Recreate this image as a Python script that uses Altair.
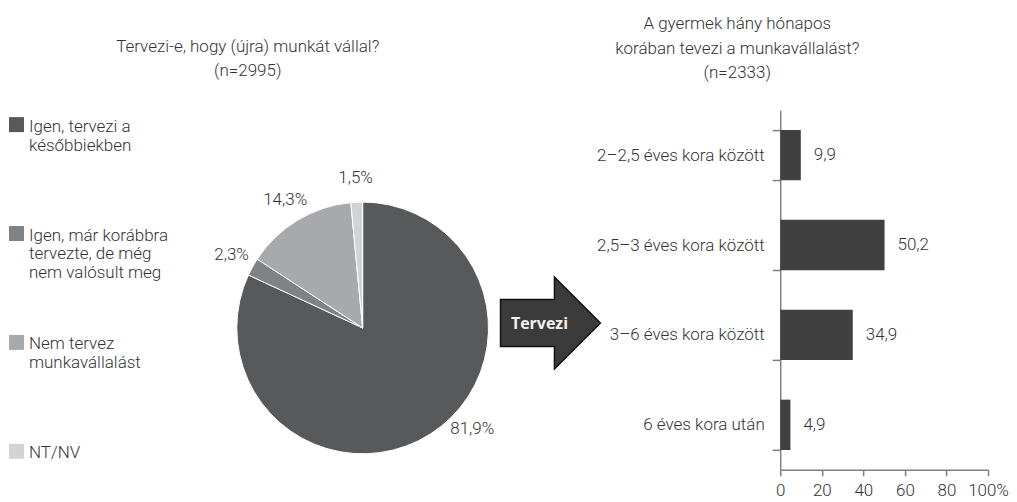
import json
import altair as alt
import pandas as pd

FONT = "Roboto"
TEXT = "#333333"

# ---------------- data ----------------
pie_categories = [
    "Igen, tervezi a későbbiekben",
    "Igen, már korábbra tervezte, de még nem valósult meg",
    "Nem tervez munkavállalást",
    "NT/NV",
]
pie_legend_lines = [
    ["Igen, tervezi a", "későbbiekben"],
    ["Igen, már korábbra", "tervezte, de még", "nem valósult meg"],
    ["Nem tervez", "munkavállalást"],
    ["NT/NV"],
]
pie_values = [81.9, 2.3, 14.3, 1.5]
pie_colors = ["#58595b", "#808285", "#a7a9ac", "#d1d3d4"]
pie_title = ["Tervezi-e, hogy (újra) munkát vállal?", "(n=2995)"]

bar_categories = [
    "2–2,5 éves kora között",
    "2,5–3 éves kora között",
    "3–6 éves kora között",
    "6 éves kora után",
]
bar_values = [9.9, 50.2, 34.9, 4.9]
bar_title = ["A gyermek hány hónapos", "korában tevezi a munkavállalást?", "(n=2333)"]
x_ticks = [0, 20, 40, 60, 80, 100]

arrow_label = ["Tervezi"]

# ---------------- pie + legend ----------------
pie_df = pd.DataFrame({"cat": pie_categories, "pct": pie_values, "order": list(range(len(pie_values)))})

label_expr = " : ".join(
    f"datum.label == {json.dumps(c, ensure_ascii=False)} ? {json.dumps(l, ensure_ascii=False)}"
    for c, l in zip(pie_categories, pie_legend_lines)
) + " : datum.label"

CX, CY = 355, 218

theta_scale = alt.Scale(domain=[0, 100])

# square symbol drawn a little below its anchor so it lines up with the first label line
legend_square = "M -1 -0.2 L 1 -0.2 L 1 1.8 L -1 1.8 Z"

arcs = alt.Chart(pie_df).mark_arc(outerRadius=126, stroke="white", strokeWidth=1).encode(
    theta=alt.Theta("pct:Q", stack=True, scale=theta_scale),
    order=alt.Order("order:Q", sort="ascending"),
    color=alt.Color(
        "cat:N",
        sort=pie_categories,
        scale=alt.Scale(domain=pie_categories, range=pie_colors),
        legend=alt.Legend(
            title=None,
            orient="none",
            legendX=0,
            legendY=0,
            symbolType=legend_square,
            symbolSize=225,
            symbolStrokeWidth=0,
            labelFont=FONT,
            labelFontSize=17,
            labelFontWeight=300,
            labelColor=TEXT,
            labelLimit=0,
            labelOffset=4,
            rowPadding=46,
            gridAlign="all",
            labelBaseline="top",
            labelExpr=label_expr,
            padding=0,
        ),
    ),
    x=alt.value(CX),
    y=alt.value(CY),
)

pie_text_base = (
    alt.Chart(pie_df)
    .transform_window(cum="sum(pct)", sort=[alt.SortField("order")], frame=[None, 0])
    .transform_calculate(
        mid="datum.cum - datum.pct / 2",
        lbl="replace(format(datum.pct, '.1f'), '.', ',') + '%'",
    )
    .encode(
        theta=alt.Theta("mid:Q", stack=None, scale=theta_scale),
        text="lbl:N",
        x=alt.value(CX),
        y=alt.value(CY),
    )
)
small_labels = pie_text_base.transform_filter("datum.pct < 50").mark_text(
    radius=150, font=FONT, fontSize=17, fontWeight=300, color=TEXT
)
big_label = pie_text_base.transform_filter("datum.pct >= 50").mark_text(
    radius=150, dx=29, dy=-25, font=FONT, fontSize=17, fontWeight=300, color=TEXT
)

title_common = dict(font=FONT, fontSize=17, fontWeight=300, color=TEXT, anchor="middle", lineHeight=24.5)

pie_view = alt.layer(arcs, small_labels, big_label).properties(
    width=480, height=360, title=alt.TitleParams(text=pie_title, offset=30, **title_common)
)

# ---------------- arrow ----------------
arrow_df = pd.DataFrame({"label": arrow_label})
arrow_path = "M -1 -0.47 L 0.08 -0.47 L 0.08 -0.92 L 1 0 L 0.08 0.92 L 0.08 0.47 L -1 0.47 Z"
arrow = alt.Chart(arrow_df).mark_point(
    shape=arrow_path, size=10000, filled=True, fill="#3b3b3b", stroke="#111111", strokeWidth=1.5, opacity=1
).encode(x=alt.value(63), y=alt.value(213))
arrow_text = alt.Chart(arrow_df).mark_text(
    font="Open Sans", fontWeight="bold", fontSize=16, color="#f2f2f2"
).encode(text="label:N", x=alt.value(52), y=alt.value(214))
arrow_view = alt.layer(arrow, arrow_text).properties(width=293, height=360)

# ---------------- bars ----------------
bar_df = pd.DataFrame({"cat": bar_categories, "v": bar_values})
bar_base = alt.Chart(bar_df).transform_calculate(
    lbl="replace(format(datum.v, '.1f'), '.', ',')"
).encode(
    y=alt.Y(
        "cat:N",
        sort=bar_categories,
        title=None,
        scale=alt.Scale(paddingInner=0.44, paddingOuter=0.22),
        axis=alt.Axis(
            tickBand="extent",
            ticks=True,
            tickSize=8,
            labelPadding=8,
            labelFont=FONT,
            labelFontSize=17,
            labelFontWeight=300,
            labelColor=TEXT,
            labelLimit=0,
            domainColor="#7f7f7f",
            domainWidth=1.5,
            tickColor="#7f7f7f",
            tickWidth=1.5,
        ),
    ),
    x=alt.X(
        "v:Q",
        title=None,
        scale=alt.Scale(domain=[0, 100]),
        axis=alt.Axis(
            values=x_ticks,
            grid=False,
            tickSize=6,
            labelPadding=7,
            labelFlush=False,
            labelFont=FONT,
            labelFontSize=17,
            labelFontWeight=300,
            labelColor=TEXT,
            labelExpr="datum.value == 100 ? '100%' : datum.label",
            domainColor="#7f7f7f",
            domainWidth=1.5,
            tickColor="#7f7f7f",
            tickWidth=1.5,
        ),
    ),
)
bars = bar_base.mark_bar(color="#404041")
bar_labels = bar_base.mark_text(
    align="left", baseline="middle", dx=13, font=FONT, fontSize=17, fontWeight=300, color=TEXT
).encode(text="lbl:N")
bar_view = alt.layer(bars, bar_labels).properties(
    width=208, height=360, title=alt.TitleParams(text=bar_title, dx=-147, offset=19, **title_common)
)

chart = (
    alt.hconcat(pie_view, arrow_view, bar_view, spacing=0, bounds="flush")
    .properties(padding={"left": 0, "top": 7, "right": 0, "bottom": 0})
    .configure(font=FONT)
    .configure_view(stroke="transparent", strokeWidth=0)
)

chart.save("out.html", embed_options={"renderer": "svg", "actions": False})
